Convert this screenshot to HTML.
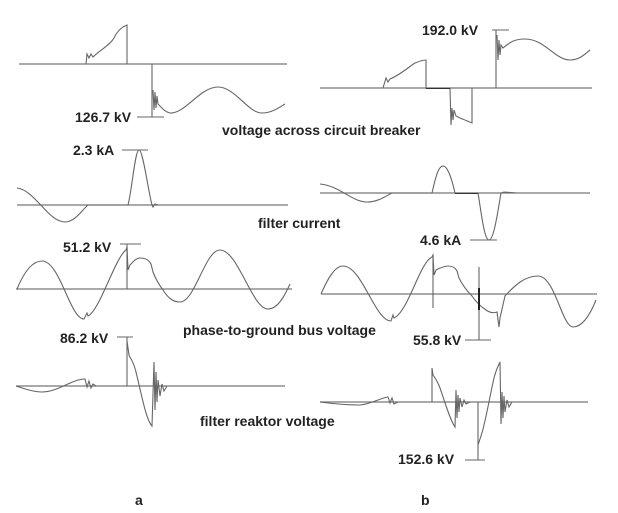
<!DOCTYPE html>
<html><head><meta charset="utf-8"><style>
html,body{margin:0;padding:0;background:#fff;}
svg{display:block;}
text{font-family:"Liberation Sans",Arial,sans-serif;font-weight:bold;font-size:14px;fill:#222;}
.w{fill:none;stroke:#666;stroke-width:1.1;}
.b{fill:none;stroke:#777;stroke-width:1.2;}
</style></head><body>
<svg width="618" height="513" viewBox="0 0 618 513" xmlns="http://www.w3.org/2000/svg">
<!-- LEFT panel 1 -->
<line class="b" x1="19" y1="64" x2="287" y2="64"/>
<path class="w" d="M86 64 L87 54 L89 58 L91 54 L93 57 C100 50 110 45 114 38 C118 30 122 27 127 25 L127 64"/>
<path class="w" d="M152 64 L152 117 M137 117 L164 117"/>
<path class="w" d="M153 90 L154 110 L155 92 L156 108 L157 96 L158 104 C162 108 165 112 170 113 C185 114 200 87 218 87 C235 87 248 113 262 113 C272 113 280 107 285 104"/>
<text x="75" y="122">126.7 kV</text>
<text x="222" y="135">voltage across circuit breaker</text>
<!-- LEFT panel 2 -->
<line class="b" x1="17" y1="205" x2="288" y2="205"/>
<path class="w" d="M17 188 C35 190 48 222 65 222 C75 222 82 210 88 205 L128 205 C132 190 135 150 139 150 C143 150 148 190 152 205 L153 207 L155 204 L158 205"/>
<path class="w" d="M122 150 L148 150"/>
<text x="73" y="155">2.3 kA</text>
<text x="258" y="228">filter current</text>
<!-- LEFT panel 3 -->
<line class="b" x1="16" y1="289" x2="292" y2="289"/>
<path class="w" d="M17 289 C24 272 32 261 42 261 C60 261 70 319 84 319 L87 313 L88 316 C100 310 115 258 126 250 L127 247 L128 270 L130 265 C133 262 136 258 140 258 C145 258 149 260 151 264 L153 272 C156 280 160 286 163 290 C168 298 173 302 180 302 C195 302 205 250 220 250 C238 250 252 309 268 309 C278 309 285 295 290 284"/>
<path class="w" d="M127 244 L127 289 M120 244 L141 244"/>
<text x="63" y="252">51.2 kV</text>
<text x="183" y="335">phase-to-ground bus voltage</text>
<!-- LEFT panel 4 -->
<line class="b" x1="16" y1="386" x2="285" y2="386"/>
<path class="w" d="M16 386 C28 390 35 392 42 392 C58 392 72 379 85 379 L87 387 L89 381 L91 388 L93 384 L96 386"/>
<path class="w" d="M127 386 L127 337 M117 337 L133 337"/>
<path class="w" d="M127 341 L129 355 C131 360 133 360 136 372 C141 392 146 420 152 426 L154 362 L155 410 L156 372 L157 402 L158 380 L160 396 L162 384 L164 391 L167 386"/>
<text x="60" y="343">86.2 kV</text>
<text x="200" y="426">filter  reaktor  voltage</text>
<!-- RIGHT panel 1 -->
<line class="b" x1="320" y1="88" x2="592" y2="88"/>
<path class="w" d="M383 88 L386 78 L388 82 L390 79 C400 75 410 66 415 63 C420 61 424 60 426 60 L426 88 L450 88 L451 125 L452 108 L453 120 L454 110 L456 116 L460 118 C465 120 470 122 472 123 L472 88"/>
<path class="w" d="M426 88.5 L450 88.5" style="stroke:#333"/>
<path class="w" d="M496 88 L496 30 M492 30 L509 30"/>
<path class="w" d="M497 35 L498 60 L499 40 L500 55 L501 45 L503 48 C510 42 515 39 525 39 C545 39 555 60 570 60 C580 60 586 53 590 50"/>
<text x="422" y="35">192.0 kV</text>
<!-- RIGHT panel 2 -->
<line class="b" x1="320" y1="193" x2="590" y2="193"/>
<path class="w" d="M320 184 C340 186 352 202 367 202 C378 202 386 196 392 193 L432 193 C435 180 438 166 443 166 C448 166 452 180 455 193 L478 193 C481 210 484 240 489 240 C494 240 498 210 501 193 L504 192 L516 193"/>
<path class="w" d="M455 193.5 L478 193.5" style="stroke:#333"/>
<path class="w" d="M470 240 L497 240"/>
<text x="420" y="245">4.6 kA</text>
<!-- RIGHT panel 3 -->
<line class="b" x1="321" y1="294" x2="597" y2="294"/>
<path class="w" d="M321 294 C328 278 335 266 343 266 C362 266 375 321 391 321 L393 315 L394 318 C408 312 420 262 432 257 L433 255 L434 275 L436 270 C440 268 444 266 448 266 C452 266 455 267 457 271 L459 278 C463 286 468 292 472 296 C476 302 480 306 486 310 C490 313 494 313 497 312 L499 327 L500 318 L505 296 C515 285 525 276 538 276 C555 276 562 327 573 327 C584 327 592 310 596 300"/>
<path class="w" d="M433 255 L433 308"/>
<path class="w" d="M479 267 L479 340 M465 340 L491 340"/>
<path style="fill:none;stroke:#222;stroke-width:2" d="M479 288 L479 310"/>
<text x="413" y="345">55.8 kV</text>
<!-- RIGHT panel 4 -->
<line class="b" x1="320" y1="402" x2="588" y2="402"/>
<path class="w" d="M320 402 C335 404 348 405 360 405 C372 404 380 398 388 397 L390 403 L392 398 L394 404 L398 402"/>
<path class="w" d="M432 402 L432 368 L433 375 C435 378 437 380 440 388 C445 402 450 420 455 427 L456 390 L457 418 L458 395 L459 412 L460 398 L462 407 L464 400 L466 404 L470 402"/>
<path class="w" d="M478 402 L478 460 M465 460 L485 460"/>
<path class="w" d="M478 445 L481 436 C485 425 490 395 494 378 C496 370 498 366 500 362 L501 424 L502 392 L503 418 L504 396 L505 412 L507 400 L509 407 L512 402"/>
<text x="398" y="464">152.6 kV</text>
<!-- a / b -->
<text x="135" y="505">a</text>
<text x="421" y="505">b</text>
</svg>
</body></html>
